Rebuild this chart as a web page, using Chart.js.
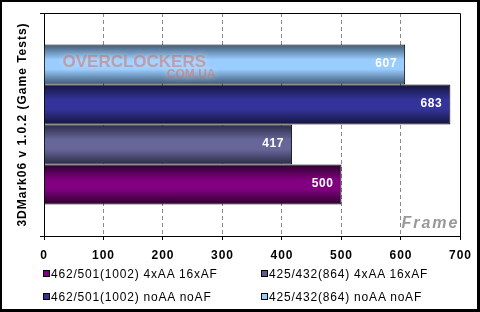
<!DOCTYPE html>
<html><head><meta charset="utf-8">
<script src="https://cdn.jsdelivr.net/npm/chart.js@4.4.0/dist/chart.umd.min.js"></script>
<style>
html,body{margin:0;padding:0;background:#fff;}
#wrap{position:relative;width:480px;height:312px;overflow:hidden;background:#fff;}
#c{position:absolute;left:0;top:0;}
#frame{position:absolute;left:0;top:0;width:480px;height:312px;box-sizing:border-box;border-style:solid;border-color:#000;border-width:2px 3px 3px 2px;pointer-events:none;}
.lg{position:absolute;font:12px "Liberation Sans",Arial,sans-serif;letter-spacing:0.8px;color:#000;white-space:nowrap;line-height:14px;}
.lg i{position:absolute;left:-8px;top:3px;width:5px;height:5px;border:1px solid #000;}
</style>
</head><body>
<div id="wrap">
<canvas id="c" width="480" height="312"></canvas>
<div id="legend"></div>
<div id="frame"></div>
</div>
<script>
// ---- data ----
const categories = [''];
const seriesNames = ['425/432(864) noAA noAF', '462/501(1002) noAA noAF', '425/432(864) 4xAA 16xAF', '462/501(1002) 4xAA 16xAF'];
const values864NoAA = [607];
const values1002NoAA = [683];
const values864AA = [417];
const values1002AA = [500];
const xTickValues = [0, 100, 200, 300, 400, 500, 600, 700];
const axisTitle = '3DMark06 v 1.0.2 (Game Tests)';
const cornerNote = 'Frame';

// ---- styles ----
const FONT = '"Liberation Sans", Arial, sans-serif';
const midColors = ['#99ccff', '#333399', '#666699', '#800080'];
const edgeColors = ['#3e5870', '#15153f', '#2b2b46', '#2c002c'];
const legendColors = ['#99ccff', '#333399', '#5e5e88', '#800080'];
const seriesValues = [values864NoAA, values1002NoAA, values864AA, values1002AA];

const spacingPlugin = {
  id: 'spacing',
  beforeUpdate(chart) { chart.ctx.letterSpacing = '1px'; },
  beforeDraw(chart) { chart.ctx.letterSpacing = '1px'; }
};

const gradPlugin = {
  id: 'grad',
  beforeDatasetsDraw(chart) {
    const ctx = chart.ctx;
    chart.data.datasets.forEach((ds, i) => {
      chart.getDatasetMeta(i).data.forEach(el => {
        const top = el.y - el.height / 2, bot = el.y + el.height / 2;
        const g = ctx.createLinearGradient(0, top, 0, bot);
        g.addColorStop(0, edgeColors[i]);
        g.addColorStop(0.38, midColors[i]);
        g.addColorStop(0.62, midColors[i]);
        g.addColorStop(1, edgeColors[i]);
        el.options.backgroundColor = g;
      });
    });
  }
};

const labelPlugin = {
  id: 'labels',
  afterDatasetsDraw(chart) {
    const ctx = chart.ctx;
    ctx.save();
    // watermark on first bar
    const wm = chart.getDatasetMeta(0).data[0];
    if (wm) {
      ctx.save();
      ctx.letterSpacing = '0px';
      ctx.shadowColor = 'rgba(255,255,255,0.9)';
      ctx.shadowBlur = 7;
      ctx.fillStyle = 'rgba(200,115,105,0.55)';
      ctx.textAlign = 'left';
      ctx.textBaseline = 'alphabetic';
      ctx.font = 'bold 17px ' + FONT;
      ctx.fillText('OVERCLOCKERS', wm.base + 18, wm.y + 2);
      ctx.font = 'bold 12px ' + FONT;
      ctx.textAlign = 'right';
      ctx.fillText('.COM.UA', wm.base + 171, wm.y + 13);
      ctx.restore();
    }
    ctx.letterSpacing = '0.6px';
    ctx.font = 'bold 12px ' + FONT;
    ctx.fillStyle = '#fff';
    ctx.textAlign = 'right';
    ctx.textBaseline = 'alphabetic';
    chart.data.datasets.forEach((ds, i) => {
      chart.getDatasetMeta(i).data.forEach((el, j) => {
        ctx.fillText(String(ds.data[j]), el.x - 8, el.y + 2.5);
      });
    });
    // frame note
    const a = chart.chartArea;
    ctx.letterSpacing = '2px';
    ctx.font = 'italic bold 16px ' + FONT;
    ctx.fillStyle = '#999999';
    ctx.fillText(cornerNote, a.right - 1, a.bottom - 8);
    ctx.restore();
  },
  afterDraw(chart) {
    const ctx = chart.ctx, a = chart.chartArea;
    ctx.save();
    ctx.strokeStyle = '#000';
    ctx.lineWidth = 1;
    ctx.beginPath();
    const r = Math.round(a.right) + 0.5, t = Math.round(a.top) + 0.5;
    ctx.moveTo(Math.round(a.left), t);
    ctx.lineTo(r, t);
    ctx.lineTo(r, Math.round(a.bottom) + 1);
    ctx.stroke();
    ctx.restore();
  }
};

const chart = new Chart(document.getElementById('c'), {
  type: 'bar',
  data: {
    labels: categories,
    datasets: seriesNames.map((n, i) => ({
      label: n,
      data: seriesValues[i],
      backgroundColor: midColors[i],
      borderColor: '#000',
      borderWidth: 1,
      borderSkipped: 'start'
    }))
  },
  options: {
    indexAxis: 'y',
    responsive: false,
    animation: false,
    devicePixelRatio: 1,
    layout: { padding: { left: 0, top: 13, right: 19, bottom: 46 } },
    plugins: { legend: { display: false }, tooltip: { enabled: false } },
    datasets: { bar: { categoryPercentage: 160 / 223, barPercentage: 1 } },
    scales: {
      x: {
        type: 'linear', min: xTickValues[0], max: xTickValues[xTickValues.length - 1],
        afterBuildTicks(s) { s.ticks = xTickValues.map(v => ({ value: v })); },
        ticks: { font: { family: FONT, size: 12, weight: 'bold' }, color: '#000', padding: 8, maxRotation: 0, autoSkip: false },
        grid: {
          color: c => (c.index === 0 || c.index === xTickValues.length - 1) ? 'rgba(0,0,0,0)' : '#8a8a8a',
          tickColor: '#000', tickLength: 4, drawTicks: true
        },
        border: { color: '#000', width: 1, dash: [4, 3] },
        afterFit(s) { s.height = 30; }
      },
      y: {
        type: 'category',
        ticks: { display: false },
        grid: { drawOnChartArea: false, drawTicks: true, tickLength: 4, color: '#000', offset: true },
        border: { color: '#000', width: 1 },
        title: { display: true, text: axisTitle, color: '#000', font: { family: FONT, size: 12, weight: 'bold' }, padding: { top: 15, bottom: 0 } },
        afterFit(s) { s.width = 44; }
      }
    }
  },
  plugins: [spacingPlugin, gradPlugin, labelPlugin]
});

// ---- HTML legend (2 columns) ----
const legendOrder = [3, 2, 1, 0];
const colX = [51, 269];
const rowY = [267, 290];
const lg = document.getElementById('legend');
legendOrder.forEach((di, k) => {
  const s = document.createElement('span');
  s.className = 'lg';
  s.style.left = colX[k % 2] + 'px';
  s.style.top = rowY[Math.floor(k / 2)] + 'px';
  const sq = document.createElement('i');
  sq.style.background = legendColors[di];
  s.appendChild(sq);
  s.appendChild(document.createTextNode(seriesNames[di]));
  lg.appendChild(s);
});
</script>
</body></html>
